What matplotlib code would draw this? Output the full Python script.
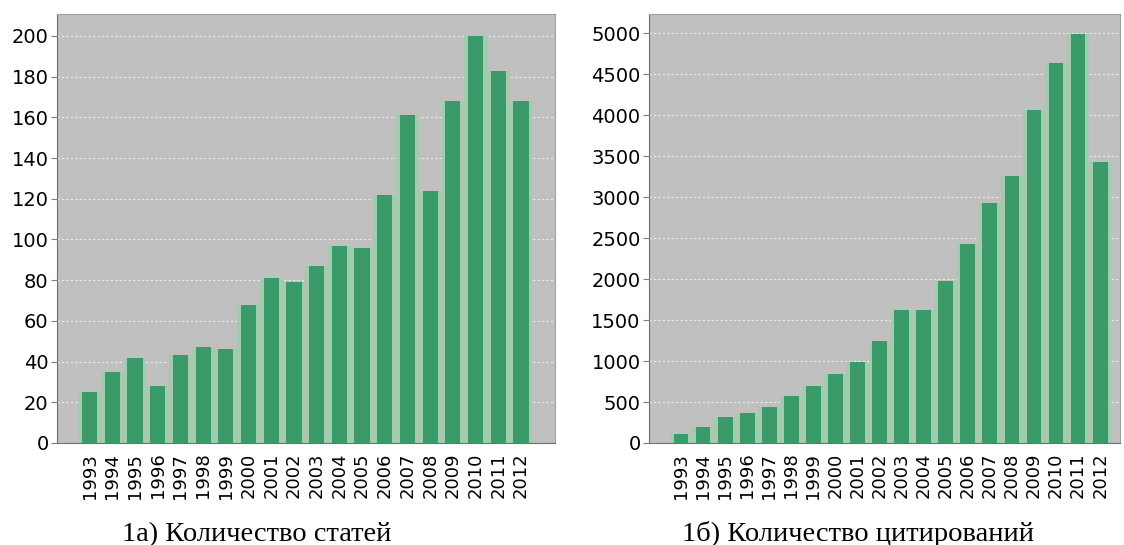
import matplotlib.pyplot as plt
import numpy as np

years = [str(y) for y in range(1993, 2013)]
articles = [25, 35, 42, 28, 43, 47, 46, 68, 81, 79, 87, 97, 96, 122, 161, 124, 168, 200, 183, 168]
citations = [110, 190, 320, 365, 440, 570, 690, 840, 990, 1250,
             1620, 1620, 1975, 2425, 2930, 3255, 4060, 4635, 4985, 3425]
captions = ["1а) Количество статей", "1б) Количество цитирований"]

bg = "#c0c0c0"
green = "#3a9a6a"
halo = "#a2ccad"

fig = plt.figure(figsize=(11.24, 5.45), dpi=100)
ax1 = fig.add_axes([57 / 1124, 1 - 443 / 545, (555 - 57) / 1124, (443 - 14) / 545])
ax2 = fig.add_axes([649 / 1124, 1 - 443 / 545, (1120 - 649) / 1124, (443 - 14) / 545])

x = np.arange(len(years))


def draw(ax, vals, ymax, step, xlim):
    ax.set_facecolor(bg)
    ax.bar(x, vals, width=1.0, color=halo, zorder=2)
    ax.bar(x, vals, width=0.67, color=green, zorder=3)
    ax.set_ylim(0, ymax)
    ax.set_xlim(*xlim)
    ax.set_yticks(np.arange(0, ymax, step))
    ax.set_xticks(x)
    ax.set_xticklabels(years, rotation=90, fontsize=13)
    ax.yaxis.grid(True, color="white", linestyle=(0, (2, 2)), linewidth=0.8, alpha=0.7, zorder=1)
    ax.set_axisbelow(True)
    ax.tick_params(axis="y", labelsize=14, length=4, color="#808080", pad=2)
    ax.tick_params(axis="x", length=0, pad=7)
    for s in ax.spines.values():
        s.set_color("#a0a0a0")
    ax.spines["left"].set_color("#707070")
    ax.spines["bottom"].set_color("#707070")


draw(ax1, articles, 210.8, 20, (-1.44, 20.5))
draw(ax2, citations, 5232, 500, (-1.45, 19.9))

fig.text(257 / 1124, 1 - 541 / 545, captions[0], ha="center", va="baseline",
         fontsize=20.5, family="Liberation Serif")
fig.text(858 / 1124, 1 - 541 / 545, captions[1], ha="center", va="baseline",
         fontsize=20.5, family="Liberation Serif")

fig.savefig("out.png", dpi=100)
